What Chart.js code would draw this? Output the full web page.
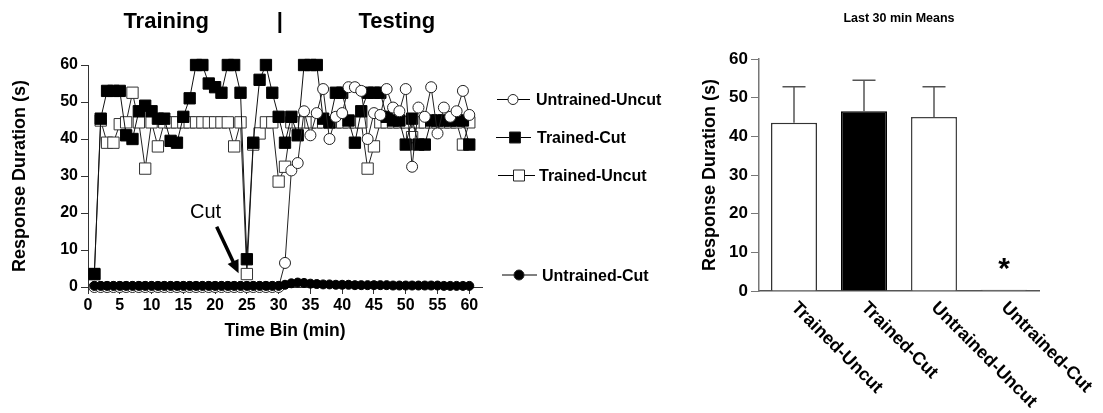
<!DOCTYPE html>
<html>
<head>
<meta charset="utf-8">
<title>Response duration</title>
<script src="https://cdn.jsdelivr.net/npm/chart.js@4.4.1/dist/chart.umd.min.js"></script>
<style>
  html, body { margin: 0; padding: 0; background: #fff; }
  #wrap { position: relative; width: 1103px; height: 413px; overflow: hidden; }
  #left { position: absolute; left: 0; top: 0; }
  #right { position: absolute; left: 680px; top: 0; }
</style>
</head>
<body>
<div id="wrap">
  <canvas id="left" width="680" height="413"></canvas>
  <canvas id="right" width="423" height="413"></canvas>
</div>
<script>
// time bins (min)
const minutes = [1, 2, 3, 4, 5, 6, 7, 8, 9, 10,
  11, 12, 13, 14, 15, 16, 17, 18, 19, 20,
  21, 22, 23, 24, 25, 26, 27, 28, 29, 30,
  31, 32, 33, 34, 35, 36, 37, 38, 39, 40,
  41, 42, 43, 44, 45, 46, 47, 48, 49, 50,
  51, 52, 53, 54, 55, 56, 57, 58, 59, 60];

const trainedCut = [3.5, 45.5, 53, 53, 53, 41, 40, 47.5, 49, 47.5,
  45.5, 45.5, 39.5, 39, 46, 51, 60, 60, 55, 54,
  52.5, 60, 60, 52.5, 7.5, 39, 56, 60, 52.5, 46,
  39, 46, 41, 60, 60, 60, 45.5, 44.5, 52.5, 52.5,
  45, 39, 47.5, 52.5, 52.5, 52.5, 46, 45, 45, 38.5,
  45.5, 38.5, 38.5, 45, 45, 45, 45, 45, 45, 38.5];

const trainedUncut = [3.5, 45, 39, 39, 44, 44.5, 52.5, 44.5, 32, 44.5,
  38, 44.5, 44.5, 44.5, 44.5, 44.5, 44.5, 44.5, 44.5, 44.5,
  44.5, 44.5, 38, 44.5, 3.5, 38.5, 41.5, 44.5, 44.5, 28.5,
  32.5, 44.5, 44.5, 44.5, 44.5, 44.5, 44.5, 44.5, 44.5, 44.5,
  44.5, 44.5, 44.5, 32, 38, 44.5, 44.5, 44.5, 44.5, 44.5,
  40.5, 44.5, 44.5, 44.5, 44.5, 44.5, 44.5, 44.5, 38.5, 44.5];

const untrainedUncut = [0, 0, 0, 0, 0, 0, 0, 0, 0, 0,
  0, 0, 0, 0, 0, 0, 0, 0, 0, 0,
  0, 0, 0, 0, 0, 0, 0, 0, 0, 0,
  6.5, 31.5, 33.5, 47.5, 41, 47, 53.5, 40, 46, 47,
  54, 54, 53, 40, 47, 46.5, 53.5, 48.5, 47.5, 53.5,
  32.5, 48.5, 46, 54, 41.5, 48.5, 46, 47.5, 53, 46.5];

const untrainedCut = [0.3, 0.3, 0.3, 0.3, 0.3, 0.3, 0.3, 0.3, 0.3, 0.3,
  0.3, 0.3, 0.3, 0.3, 0.3, 0.3, 0.3, 0.3, 0.3, 0.3,
  0.3, 0.3, 0.3, 0.3, 0.3, 0.3, 0.3, 0.3, 0.3, 0.3,
  0.6, 1.0, 1.2, 1.1, 0.9, 0.8, 0.7, 0.7, 0.6, 0.6,
  0.6, 0.5, 0.5, 0.5, 0.5, 0.5, 0.5, 0.4, 0.4, 0.4,
  0.4, 0.4, 0.4, 0.4, 0.4, 0.3, 0.3, 0.3, 0.3, 0.3];

// last 30 min means
const groups = ['Trained-Uncut', 'Trained-Cut', 'Untrained-Uncut', 'Untrained-Cut'];
const means = [43.5, 46.5, 45, 0.3];
const semUpper = [9.3, 8, 7.8, 0];
const sigMarks = ['', '', '', '*'];

const FONT = "'Liberation Sans', Arial, sans-serif";
Chart.defaults.font.family = FONT;
Chart.defaults.color = '#000';

function series(vals) {
  return minutes.map((m, i) => ({ x: m, y: vals[i] }));
}

// legend rows of the left chart (page pixels)
const legendRows = [
  { text: 'Untrained-Uncut', y: 99.5, x0: 497, x1: 530, mx: 513, tx: 536, shape: 'circle', fill: '#fff' },
  { text: 'Trained-Cut', y: 137.5, x0: 496, x1: 531, mx: 515, tx: 537, shape: 'rect', fill: '#000' },
  { text: 'Trained-Uncut', y: 175.5, x0: 498, x1: 535, mx: 519, tx: 539, shape: 'rect', fill: '#fff' },
  { text: 'Untrained-Cut', y: 275, x0: 502, x1: 537, mx: 519, tx: 542, shape: 'circle', fill: '#000' }
];

const leftDecor = {
  id: 'leftDecor',
  afterDraw(chart) {
    const { ctx, scales: { x, y } } = chart;
    ctx.save();
    ctx.fillStyle = '#000';

    // phase headings
    ctx.font = `bold 22px ${FONT}`;
    ctx.textAlign = 'center';
    ctx.textBaseline = 'alphabetic';
    ctx.fillText('Training', x.getPixelForValue(12.3), 28);
    ctx.fillText('|', x.getPixelForValue(30.2), 28);
    ctx.fillText('Testing', x.getPixelForValue(48.6), 28);

    // cut annotation
    ctx.font = `20px ${FONT}`;
    ctx.fillText('Cut', x.getPixelForValue(18.5), y.getPixelForValue(18.6));
    const ax0 = x.getPixelForValue(20.25), ay0 = y.getPixelForValue(16.3);
    const ax1 = x.getPixelForValue(23.7), ay1 = y.getPixelForValue(3.7);
    const ang = Math.atan2(ay1 - ay0, ax1 - ax0);
    const head = 13;
    ctx.strokeStyle = '#000';
    ctx.lineWidth = 3.5;
    ctx.beginPath();
    ctx.moveTo(ax0, ay0);
    ctx.lineTo(ax1 - Math.cos(ang) * head * 0.8, ay1 - Math.sin(ang) * head * 0.8);
    ctx.stroke();
    ctx.beginPath();
    ctx.moveTo(ax1, ay1);
    ctx.lineTo(ax1 - head * Math.cos(ang) + 6 * Math.sin(ang), ay1 - head * Math.sin(ang) - 6 * Math.cos(ang));
    ctx.lineTo(ax1 - head * Math.cos(ang) - 6 * Math.sin(ang), ay1 - head * Math.sin(ang) + 6 * Math.cos(ang));
    ctx.closePath();
    ctx.fill();

    // legend
    ctx.textAlign = 'left';
    ctx.font = `bold 16px ${FONT}`;
    legendRows.forEach(r => {
      ctx.strokeStyle = '#000';
      ctx.lineWidth = 1;
      ctx.beginPath();
      ctx.moveTo(r.x0, r.y);
      ctx.lineTo(r.x1, r.y);
      ctx.stroke();
      ctx.fillStyle = r.fill;
      ctx.strokeStyle = '#222';
      ctx.beginPath();
      if (r.shape === 'rect') ctx.rect(r.mx - 5.5, r.y - 5.5, 11, 11);
      else ctx.arc(r.mx, r.y, 5, 0, Math.PI * 2);
      ctx.fill();
      ctx.stroke();
      ctx.fillStyle = '#000';
      ctx.fillText(r.text, r.tx, r.y + 5.5);
    });
    ctx.restore();
  }
};

new Chart(document.getElementById('left'), {
  type: 'line',
  data: {
    datasets: [
      {
        label: 'Trained-Uncut', data: series(trainedUncut), order: 4,
        borderColor: '#222', borderWidth: 1, pointStyle: 'rect', pointRadius: 8,
        pointBackgroundColor: '#fff', pointBorderColor: '#333', pointBorderWidth: 1, clip: false
      },
      {
        label: 'Trained-Cut', data: series(trainedCut), order: 3,
        borderColor: '#111', borderWidth: 1, pointStyle: 'rect', pointRadius: 8,
        pointBackgroundColor: '#000', pointBorderColor: '#000', pointBorderWidth: 1, clip: false
      },
      {
        label: 'Untrained-Uncut', data: series(untrainedUncut), order: 2,
        borderColor: '#222', borderWidth: 1, pointStyle: 'circle', pointRadius: 5.5,
        pointBackgroundColor: '#fff', pointBorderColor: '#222', pointBorderWidth: 1, clip: false
      },
      {
        label: 'Untrained-Cut', data: series(untrainedCut), order: 1,
        borderColor: '#000', borderWidth: 1, pointStyle: 'circle', pointRadius: 4.5,
        pointBackgroundColor: '#000', pointBorderColor: '#000', pointBorderWidth: 1, clip: false
      }
    ]
  },
  options: {
    responsive: false,
    animation: false,
    events: [],
    layout: { padding: { top: 65, right: 198, bottom: 66, left: 0 } },
    plugins: { legend: { display: false }, tooltip: { enabled: false } },
    scales: {
      x: {
        type: 'linear', min: 0, max: 62,
        ticks: { stepSize: 5, includeBounds: false, padding: 2, maxRotation: 0, font: { size: 16, weight: 'bold' } },
        grid: { drawOnChartArea: false, tickLength: 7, color: '#333' },
        border: { color: '#333', width: 1 },
        title: { display: true, text: 'Time Bin (min)', font: { size: 17.5, weight: 'bold' }, padding: { top: 0, bottom: 5 } },
        afterFit: s => { s.height = 60; }
      },
      y: {
        min: 0, max: 60,
        ticks: { stepSize: 10, padding: 3, font: { size: 16, weight: 'bold' } },
        grid: { drawOnChartArea: false, tickLength: 7, color: '#333' },
        border: { color: '#333', width: 1 },
        title: { display: true, text: 'Response Duration (s)', font: { size: 18, weight: 'bold' }, padding: { top: 9, bottom: 0 } },
        afterFit: s => { s.width = 88; }
      }
    }
  },
  plugins: [leftDecor]
});

const rightDecor = {
  id: 'rightDecor',
  afterDraw(chart) {
    const { ctx, chartArea, scales: { x, y } } = chart;
    ctx.save();
    ctx.fillStyle = '#000';
    ctx.font = `bold 12.5px ${FONT}`;
    ctx.textAlign = 'center';
    ctx.textBaseline = 'middle';
    ctx.fillText('Last 30 min Means', (chartArea.left + chartArea.right) / 2, 19);

    // upper error bars
    ctx.strokeStyle = '#555';
    ctx.lineWidth = 1.5;
    means.forEach((m, i) => {
      if (!semUpper[i]) return;
      const cx = x.getPixelForValue(i);
      const y0 = y.getPixelForValue(m);
      const y1 = y.getPixelForValue(m + semUpper[i]);
      ctx.beginPath();
      ctx.moveTo(cx, y0);
      ctx.lineTo(cx, y1);
      ctx.moveTo(cx - 11.5, y1);
      ctx.lineTo(cx + 11.5, y1);
      ctx.stroke();
    });

    // significance marks
    ctx.font = `bold 30px ${FONT}`;
    ctx.textBaseline = 'alphabetic';
    sigMarks.forEach((s, i) => {
      if (!s) return;
      ctx.fillText(s, x.getPixelForValue(i), y.getPixelForValue(means[i]) - 12);
    });

    // category labels, slanted down to the right
    ctx.font = `bold 18px ${FONT}`;
    ctx.textAlign = 'left';
    ctx.textBaseline = 'middle';
    groups.forEach((g, i) => {
      ctx.save();
      ctx.translate(x.getPixelForValue(i), chartArea.bottom + 14);
      ctx.rotate(Math.PI / 4);
      ctx.fillText(g, 0, 0);
      ctx.restore();
    });
    ctx.restore();
  }
};

new Chart(document.getElementById('right'), {
  type: 'bar',
  data: {
    labels: groups,
    datasets: [{
      data: means,
      backgroundColor: ['#fff', '#000', '#fff', '#fff'],
      borderColor: ['#333', '#000', '#444', '#555'],
      borderWidth: 1.5,
      barPercentage: 0.657,
      categoryPercentage: 1
    }]
  },
  options: {
    responsive: false,
    animation: false,
    events: [],
    layout: { padding: { top: 59, right: 64, bottom: 118, left: 0 } },
    plugins: { legend: { display: false }, tooltip: { enabled: false } },
    scales: {
      x: {
        ticks: { display: false },
        grid: { display: false },
        border: { color: '#555', width: 1.5 },
        afterFit: s => { s.height = 4; }
      },
      y: {
        min: 0, max: 60,
        ticks: { stepSize: 10, padding: 3, font: { size: 17, weight: 'bold' } },
        grid: { drawOnChartArea: false, tickLength: 8, color: '#777' },
        border: { color: '#777', width: 1.5 },
        title: { display: true, text: 'Response Duration (s)', font: { size: 18, weight: 'bold' }, padding: { top: 19, bottom: 0 } },
        afterFit: s => { s.width = 79; }
      }
    }
  },
  plugins: [rightDecor]
});
</script>
</body>
</html>
